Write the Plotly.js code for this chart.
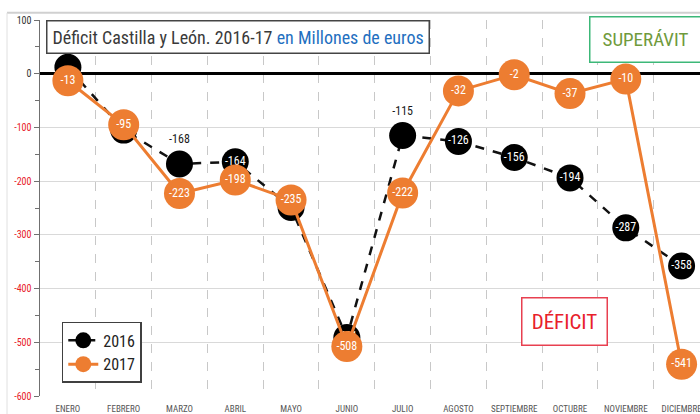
<!DOCTYPE html>
<html>
<head>
<meta charset="utf-8">
<script src="https://cdn.plot.ly/plotly-3.0.1.min.js"></script>
<style>html,body{margin:0;padding:0;background:#fff;overflow:hidden}</style>
</head>
<body>
<div id="chart" style="width:700px;height:414px"></div>
<script>
const months = ['ENERO','FEBRERO','MARZO','ABRIL','MAYO','JUNIO','JULIO','AGOSTO','SEPTIEMBRE','OCTUBRE','NOVIEMBRE','DICIEMBRE'];
const deficit2016 = [12, -105, -168, -164, -249, -491, -115, -126, -156, -194, -287, -358];
const deficit2017 = [-13, -95, -223, -198, -235, -508, -222, -32, -2, -37, -10, -541];
const yTicks = [100, 0, -100, -200, -300, -400, -500, -600];

const FONT = 'Liberation Sans Narrow, Arial Narrow, Roboto Condensed, Liberation Sans, sans-serif';

const labels2016 = deficit2016.map((v, i) => i === 0 ? '' : String(v));
const pos2016 = deficit2016.map(v => (v === -168 || v === -115) ? 'top center' : 'middle center');
const col2016 = deficit2016.map(v => (v === -168 || v === -115) ? '#1a1a1a' : '#ffffff');

const traces = [
  {
    x: months, y: deficit2016, name: '2016', type: 'scatter',
    mode: 'lines+markers+text',
    text: labels2016, textposition: pos2016,
    textfont: {family: FONT, size: 12, color: col2016},
    line: {color: '#111111', width: 2.5, dash: 'dash'},
    marker: {color: '#000000', size: 27},
    cliponaxis: false
  },
  {
    x: months, y: deficit2017, name: '2017', type: 'scatter',
    mode: 'lines+markers+text',
    text: deficit2017.map(String), textposition: 'middle center',
    textfont: {family: FONT, size: 12, color: '#ffffff'},
    line: {color: '#ED7D31', width: 3},
    marker: {color: '#ED7D31', size: 31},
    cliponaxis: false
  }
];

const layout = {
  width: 700, height: 414,
  margin: {l: 40, r: 0, t: 20, b: 18},
  paper_bgcolor: '#ffffff', plot_bgcolor: '#ffffff',
  showlegend: true,
  legend: {
    x: 0.033, y: 0.197, xanchor: 'left', yanchor: 'top',
    bgcolor: '#ffffff', bordercolor: '#404040', borderwidth: 1.5,
    font: {family: FONT, size: 16, color: '#222'},
    itemwidth: 30
  },
  xaxis: {
    type: 'category', categoryorder: 'array', categoryarray: months,
    range: [-0.5, 11.33],
    tickson: 'boundaries', ticks: '',
    tickangle: 0, ticklabelstandoff: 6,
    showgrid: true, gridcolor: '#c8c8c8', griddash: 'dash', gridwidth: 1,
    showline: false, zeroline: false,
    tickfont: {family: FONT, size: 9, color: '#555555'},
    automargin: false, fixedrange: true
  },
  yaxis: {
    range: [-600, 100],
    tickmode: 'array', tickvals: yTicks,
    ticktext: yTicks.map(v => v < 0 ? '<span style="color:#e8202a">' + v + '</span>' : String(v)),
    tickfont: {family: FONT, size: 10, color: '#333333'},
    ticks: 'outside', ticklen: 5, tickcolor: '#707070',
    minor: {dtick: 50, ticks: 'outside', ticklen: 4, tickcolor: '#707070', showgrid: false},
    showgrid: true, gridcolor: '#d9d9d9', gridwidth: 1,
    showline: true, linecolor: '#707070', linewidth: 1.5,
    zeroline: true, zerolinecolor: '#000000', zerolinewidth: 3,
    automargin: false, fixedrange: true
  },
  shapes: [
    {type: 'line', xref: 'paper', yref: 'paper', x0: -0.05, x1: 1, y0: 1.019, y1: 1.019,
     line: {color: '#d0d0d0', width: 2}},
    {type: 'line', xref: 'paper', yref: 'paper', x0: -0.05, x1: -0.05, y0: 1.019, y1: -0.06,
     line: {color: '#e0e0e0', width: 1}}
  ],
  annotations: [
    {
      xref: 'paper', yref: 'paper', x: 0.009, y: 1.0, xanchor: 'left', yanchor: 'top',
      text: 'Déficit Castilla y León. 2016-17 <span style="color:#1f6fc0">en Millones de euros</span>',
      showarrow: false, font: {family: FONT, size: 18, color: '#3a3a3a'},
      bgcolor: '#ffffff', bordercolor: '#444444', borderwidth: 1.5, borderpad: 5
    },
    {
      xref: 'paper', yref: 'paper', x: 0.917, y: 0.947, xanchor: 'center', yanchor: 'middle',
      text: 'SUPERÁVIT', showarrow: false,
      font: {family: FONT, size: 19, color: '#6f9a3c'},
      width: 108, height: 42,
      bgcolor: '#ffffff', bordercolor: '#3cb878', borderwidth: 1.5
    },
    {
      xref: 'paper', yref: 'paper', x: 0.794, y: 0.197, xanchor: 'center', yanchor: 'middle',
      text: 'DÉFICIT', showarrow: false,
      font: {family: FONT, size: 21, color: '#e8202a'},
      width: 82, height: 44,
      bgcolor: '#ffffff', bordercolor: '#e84050', borderwidth: 1.5
    }
  ]
};

Plotly.newPlot('chart', traces, layout, {displayModeBar: false, staticPlot: true});
</script>
</body>
</html>
